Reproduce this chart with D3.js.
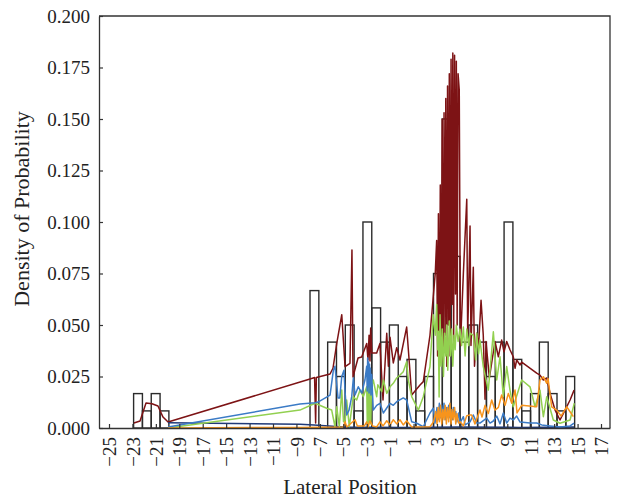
<!DOCTYPE html>
<html>
<head>
<meta charset="utf-8">
<script src="https://cdn.jsdelivr.net/npm/d3@7"></script>
<style>
  body { margin: 0; background: #fff; }
  text { font-family: "Liberation Serif", "DejaVu Serif", serif; fill: #222; }
</style>
</head>
<body>
<div id="chart"></div>
<script>
const width = 620;
const height = 502;

// histogram (bin width ~0.753 starting at -22.9)
const binStart = -22.9;
const binWidth = 0.753;
const binHeights = [
  0.0167, 0.0083, 0.0167, 0.0083, 0, 0, 0, 0, 0, 0,
  0, 0, 0, 0, 0, 0, 0, 0, 0, 0,
  0.0667, 0, 0.0417, 0.025, 0.05, 0.0083, 0.1, 0.0583, 0.0417, 0.05,
  0.025, 0.0333, 0.0083, 0.025, 0.075, 0.15, 0.0833, 0.0417, 0.05, 0.0417,
  0.025, 0.0417, 0.1, 0.0333, 0.0083, 0.0167, 0.0417, 0.0167, 0.0083, 0.025
];

const xTicks = [-25, -23, -21, -19, -17, -15, -13, -11, -9, -7, -5, -3, -1, 1, 3, 5, 7, 9, 11, 13, 15, 17];
const yTicks = [0, 0.025, 0.05, 0.075, 0.1, 0.125, 0.15, 0.175, 0.2];

const redSeries = [
  [-22.87, 0.0024], [-22.35, 0.0034], [-21.84, 0.0121], [-21.33, 0.0118], [-20.82, 0.0107], [-20.39, 0.0053], [-19.96, 0.0029],
  [-7.84, 0.0238], [-7.45, 0.0245], [-7.36, 0.0024], [-7.30, 0.0245], [-6.13, 0.0262], [-5.88, 0.029], [-5.56, 0.041],
  [-5.13, 0.055], [-4.85, 0.0298], [-4.43, 0.0314], [-4.26, 0.0864], [-4.17, 0.0248], [-3.74, 0.034], [-3.43, 0.0345],
  [-3.00, 0.041], [-2.89, 0.033], [-2.80, 0.045], [-2.72, 0.0325], [-2.66, 0.0485], [-2.57, 0.0364], [-2.15, 0.0364],
  [-1.87, 0.041], [-1.61, 0.0136], [-1.29, 0.046], [-1.15, 0.030], [-1.01, 0.044], [-0.73, 0.0316], [-0.44, 0.039],
  [-0.16, 0.033], [0.41, 0.049], [0.84, 0.016], [1.55, 0.0209], [1.83, 0.0225],
  [2.40, 0.045], [2.68, 0.0637], [2.85, 0.075], [2.97, 0.091], [3.05, 0.035], [3.12, 0.104], [3.20, 0.030],
  [3.28, 0.118], [3.36, 0.040], [3.44, 0.150], [3.52, 0.032], [3.60, 0.153], [3.68, 0.045], [3.75, 0.160],
  [3.83, 0.030], [3.90, 0.166], [3.98, 0.050], [4.05, 0.172], [4.12, 0.035], [4.20, 0.179], [4.28, 0.060],
  [4.35, 0.182], [4.42, 0.040], [4.50, 0.181], [4.58, 0.065], [4.65, 0.178], [4.72, 0.050], [4.80, 0.172],
  [4.90, 0.164], [5.00, 0.040], [5.25, 0.075],
  [5.54, 0.111], [5.62, 0.045], [5.82, 0.098], [5.90, 0.040], [6.10, 0.078], [6.20, 0.030], [6.39, 0.046],
  [6.55, 0.040], [6.76, 0.062], [6.95, 0.045], [7.10, 0.014], [7.18, 0.042], [7.47, 0.0243], [7.95, 0.042],
  [8.24, 0.0346], [8.52, 0.0427], [8.72, 0.037], [8.95, 0.042], [9.23, 0.038], [9.51, 0.0346], [9.66, 0.029],
  [9.80, 0.033], [10.09, 0.0306], [10.23, 0.032], [11.51, 0.0266], [11.79, 0.0257], [12.08, 0.0233],
  [12.37, 0.0243], [12.65, 0.0168], [13.08, 0.0087], [13.50, 0.0039], [13.93, 0.0087], [14.36, 0.0136], [14.70, 0.0184]
];

const greenSeries = [
  [-19.96, 0.0], [-8.70, 0.0087], [-7.41, 0.012], [-6.42, 0.0096], [-5.99, 0.0087], [-5.71, 0.0006], [-5.56, 0.0103],
  [-5.34, 0.0006], [-5.13, 0.0184], [-4.98, 0.003], [-4.85, 0.003], [-4.71, 0.0136], [-4.49, 0.0006], [-4.15, 0.0152],
  [-3.86, 0.0136], [-3.57, 0.0184], [-3.29, 0.0152], [-3.00, 0.020], [-2.95, 0.002], [-2.90, 0.024], [-2.85, 0.001],
  [-2.80, 0.022], [-2.75, 0.003], [-2.70, 0.025], [-2.65, 0.002], [-2.60, 0.020], [-2.44, 0.0233], [-2.15, 0.0152],
  [-2.05, 0.021], [-1.72, 0.0176], [-1.58, 0.0233], [-1.29, 0.0168], [-1.01, 0.020], [-0.73, 0.0217], [-0.44, 0.0243],
  [-0.16, 0.0257], [0.12, 0.0273], [0.41, 0.0322], [0.55, 0.0233], [0.84, 0.0152], [1.41, 0.0087], [1.83, 0.0152],
  [2.40, 0.0298], [2.68, 0.055], [2.85, 0.045], [2.97, 0.060], [3.05, 0.038], [3.11, 0.047], [3.18, 0.015],
  [3.26, 0.055], [3.35, 0.030], [3.45, 0.048], [3.55, 0.025], [3.65, 0.046], [3.75, 0.035], [3.83, 0.050],
  [3.92, 0.028], [4.05, 0.052], [4.15, 0.035], [4.25, 0.048], [4.35, 0.030], [4.45, 0.045], [4.55, 0.038],
  [4.65, 0.050], [4.80, 0.042], [4.96, 0.048], [5.10, 0.040], [5.25, 0.049], [5.40, 0.035], [5.54, 0.048],
  [5.70, 0.040], [5.82, 0.046], [6.10, 0.045], [6.30, 0.033], [6.39, 0.046], [6.55, 0.036], [6.67, 0.0427],
  [6.95, 0.0298], [7.38, 0.0184], [7.81, 0.0467], [8.10, 0.0233], [8.38, 0.0346], [8.66, 0.0152], [8.95, 0.0298],
  [9.23, 0.0184], [9.51, 0.0103], [10.23, 0.0233], [10.94, 0.020], [11.37, 0.0103], [11.79, 0.0184], [12.08, 0.0055],
  [12.37, 0.0152], [12.93, 0.0039], [13.50, 0.0023], [14.36, 0.0039], [14.72, 0.012]
];

const blueSeries = [
  [-19.96, 0.0005], [-8.70, 0.0116], [-7.41, 0.0123], [-7.16, 0.0126], [-6.13, 0.016], [-5.85, 0.028], [-5.71, 0.030],
  [-5.45, 0.0146], [-5.30, 0.0146], [-5.13, 0.025], [-4.94, 0.028], [-4.85, 0.018], [-4.71, 0.0063], [-4.51, 0.0087],
  [-4.28, 0.0152], [-4.14, 0.0243], [-4.00, 0.016], [-3.72, 0.020], [-3.43, 0.017], [-3.15, 0.0233], [-3.00, 0.030],
  [-2.96, 0.018], [-2.92, 0.034], [-2.88, 0.020], [-2.84, 0.032], [-2.80, 0.017], [-2.76, 0.031], [-2.72, 0.022],
  [-2.68, 0.029], [-2.64, 0.016], [-2.58, 0.026], [-2.44, 0.0087], [-2.15, 0.011], [-1.87, 0.012], [-1.58, 0.0073],
  [-1.29, 0.0097], [-1.01, 0.012], [-0.73, 0.011], [-0.44, 0.0128], [0.12, 0.0146], [0.41, 0.0136], [0.84, 0.003],
  [1.27, 0.0023], [1.83, 0.0006], [2.40, 0.0073], [2.68, 0.0096], [2.83, 0.0024], [3.0, 0.010], [3.1, 0.004],
  [3.2, 0.012], [3.3, 0.005], [3.4, 0.011], [3.5, 0.006], [3.6, 0.012], [3.7, 0.004], [3.8, 0.010], [3.9, 0.006],
  [4.0, 0.011], [4.1, 0.005], [4.2, 0.009], [4.3, 0.004], [4.4, 0.010], [4.5, 0.006], [4.6, 0.008], [4.7, 0.003],
  [4.85, 0.0073], [4.96, 0.0024], [5.25, 0.0055], [5.40, 0.0015], [5.82, 0.003], [6.10, 0.0063], [6.39, 0.0024],
  [6.67, 0.0024], [7.24, 0.0048], [7.53, 0.0024], [7.81, 0.0034], [8.10, 0.0058], [8.38, 0.002], [8.66, 0.0073],
  [8.95, 0.0024], [9.23, 0.0048], [9.51, 0.0039], [9.80, 0.0058], [10.09, 0.0029], [10.94, 0.0024], [11.51, 0.0024],
  [11.94, 0.0015], [12.65, 0.0010], [13.50, 0.0005], [14.36, 0.0010], [14.70, 0.0024]
];

const orangeSeries = [
  [-19.96, 0.0], [-8.70, 0.0003], [-5.00, 0.0005], [-4.85, 0.003], [-4.70, 0.0005], [-4.00, 0.004], [-3.80, 0.001],
  [-3.20, 0.001], [-3.00, 0.003], [-2.90, 0.0005], [-2.72, 0.0035], [-2.50, 0.001], [-2.15, 0.0005], [-1.87, 0.003],
  [-1.60, 0.001], [-1.29, 0.0035], [-1.00, 0.0015], [-0.73, 0.004], [-0.44, 0.002], [-0.16, 0.004], [0.12, 0.0015],
  [0.41, 0.0035], [0.84, 0.0005], [1.55, 0.0005], [2.40, 0.0006], [2.70, 0.003], [2.90, 0.008], [3.0, 0.002],
  [3.1, 0.010], [3.2, 0.003], [3.3, 0.011], [3.4, 0.002], [3.5, 0.009], [3.6, 0.004], [3.7, 0.011], [3.8, 0.002],
  [3.9, 0.010], [4.0, 0.003], [4.1, 0.012], [4.2, 0.002], [4.3, 0.009], [4.4, 0.004], [4.5, 0.010], [4.6, 0.002],
  [4.7, 0.007], [4.85, 0.0024], [5.0, 0.003], [5.25, 0.0010], [5.54, 0.006], [5.82, 0.0063], [5.96, 0.0063],
  [6.24, 0.002], [6.67, 0.0087], [6.84, 0.0053], [7.10, 0.011], [7.38, 0.007], [7.67, 0.0136], [7.95, 0.0087],
  [8.24, 0.010], [8.52, 0.016], [8.81, 0.011], [9.09, 0.0168], [9.38, 0.012], [9.66, 0.0184], [9.83, 0.0073],
  [10.23, 0.011], [11.51, 0.0103], [11.79, 0.0233], [12.08, 0.0249], [12.37, 0.0217], [12.48, 0.024],
  [12.79, 0.0103], [13.22, 0.0087], [13.59, 0.0058], [14.07, 0.0103], [14.64, 0.0055]
];

const navySeries = [
  [-19.96, 0.0026], [-8.70, 0.0018], [-7.50, 0.0015], [-5.00, 0.0005], [0, 0.0003], [5, 0.0005], [10, 0.0003], [14.70, 0.0005]
];

function createChart() {
  const svg = d3.select('#chart')
    .append('svg')
    .attr('width', width)
    .attr('height', height);

  const plot = { left: 99, right: 610, top: 16, bottom: 428 };

  const xScale = d3.scaleLinear()
    .domain([-25.854, 17.768])
    .range([plot.left, plot.right]);

  const yScale = d3.scaleLinear()
    .domain([0, 0.2])
    .range([plot.bottom, plot.top]);

  // histogram bars
  const bins = binHeights
    .map((h, i) => ({ x0: binStart + i * binWidth, x1: binStart + (i + 1) * binWidth, h: h }))
    .filter(d => d.h > 0);

  svg.append('g')
    .selectAll('rect')
    .data(bins)
    .join('rect')
    .attr('x', d => xScale(d.x0))
    .attr('y', d => yScale(d.h))
    .attr('width', d => xScale(d.x1) - xScale(d.x0))
    .attr('height', d => yScale(0) - yScale(d.h))
    .style('fill', 'none')
    .style('stroke', '#2b2b2b')
    .style('stroke-width', 1.4);

  const line = d3.line()
    .x(d => xScale(d[0]))
    .y(d => yScale(d[1]));

  const series = [
    { data: redSeries, color: '#7d1315' },
    { data: navySeries, color: '#203a78' },
    { data: greenSeries, color: '#92d050' },
    { data: blueSeries, color: '#3b7bc6' },
    { data: orangeSeries, color: '#f7941d' }
  ];

  series.forEach(s => {
    svg.append('path')
      .datum(s.data)
      .attr('d', line)
      .style('fill', 'none')
      .style('stroke', s.color)
      .style('stroke-width', 1.5)
      .style('stroke-linejoin', 'round');
  });

  // frame
  svg.append('path')
    .attr('d', `M${plot.left},${plot.top}H${plot.right}V${plot.bottom}`)
    .style('fill', 'none')
    .style('stroke', '#333')
    .style('stroke-width', 1.3);

  const xAxis = d3.axisBottom(xScale)
    .tickValues(xTicks)
    .tickSizeInner(-4)
    .tickSizeOuter(0)
    .tickPadding(8);

  const yAxis = d3.axisLeft(yScale)
    .tickValues(yTicks)
    .tickFormat(d3.format('.3f'))
    .tickSizeInner(-4)
    .tickSizeOuter(0)
    .tickPadding(9);

  const gx = svg.append('g')
    .attr('transform', `translate(0, ${plot.bottom})`)
    .call(xAxis);

  gx.selectAll('text')
    .attr('transform', 'rotate(-90)')
    .attr('text-anchor', 'end')
    .attr('x', -9)
    .attr('y', 0)
    .attr('dy', '0.35em')
    .style('font-size', '19px');

  const gy = svg.append('g')
    .attr('transform', `translate(${plot.left}, 0)`)
    .call(yAxis);

  gy.selectAll('text')
    .style('font-size', '19px');

  [gx, gy].forEach(g => {
    g.select('.domain').style('stroke', '#333').style('stroke-width', 1.3);
    g.selectAll('.tick line').style('stroke', '#333').style('stroke-width', 1.2);
    g.selectAll('text').style('fill', '#222').style('font-family', '"Liberation Serif", serif');
  });

  svg.append('text')
    .attr('text-anchor', 'middle')
    .attr('x', 350)
    .attr('y', 494)
    .text('Lateral Position')
    .style('font-size', '21px');

  svg.append('text')
    .attr('text-anchor', 'middle')
    .attr('transform', 'rotate(-90)')
    .attr('x', -209)
    .attr('y', 29)
    .text('Density of Probability')
    .style('font-size', '22px');
}

createChart();
</script>
</body>
</html>
